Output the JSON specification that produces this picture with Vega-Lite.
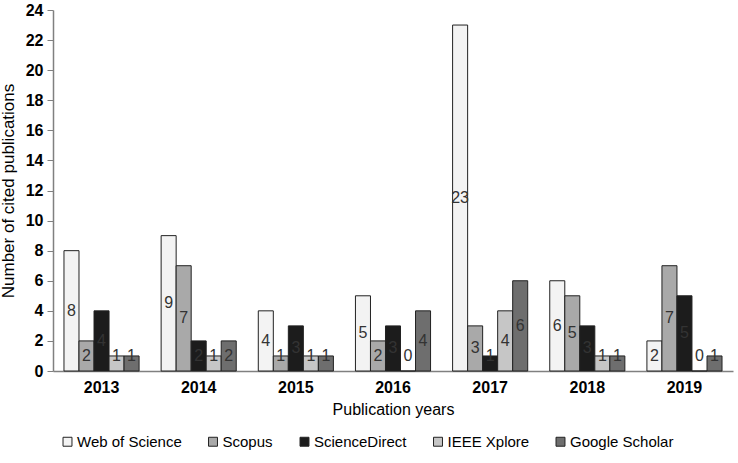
{
  "$schema": "https://vega.github.io/schema/vega-lite/v6.json",
  "width": 680,
  "height": 361,
  "autosize": {"type": "none"},
  "padding": {"left": 53, "top": 10, "right": 5, "bottom": 92},
  "background": "white",
  "config": {
    "font": "Liberation Sans",
    "view": {"stroke": null},
    "axis": {"grid": false, "labelColor": "#000", "titleColor": "#000", "labelFont": "Liberation Sans", "titleFont": "Liberation Sans"},
    "legend": {"labelFont": "Liberation Sans"}
  },
  "data": {
    "values": [
      {"year": "2013", "source": "Web of Science", "count": 8},
      {"year": "2013", "source": "Scopus", "count": 2},
      {"year": "2013", "source": "ScienceDirect", "count": 4},
      {"year": "2013", "source": "IEEE Xplore", "count": 1},
      {"year": "2013", "source": "Google Scholar", "count": 1},
      {"year": "2014", "source": "Web of Science", "count": 9},
      {"year": "2014", "source": "Scopus", "count": 7},
      {"year": "2014", "source": "ScienceDirect", "count": 2},
      {"year": "2014", "source": "IEEE Xplore", "count": 1},
      {"year": "2014", "source": "Google Scholar", "count": 2},
      {"year": "2015", "source": "Web of Science", "count": 4},
      {"year": "2015", "source": "Scopus", "count": 1},
      {"year": "2015", "source": "ScienceDirect", "count": 3},
      {"year": "2015", "source": "IEEE Xplore", "count": 1},
      {"year": "2015", "source": "Google Scholar", "count": 1},
      {"year": "2016", "source": "Web of Science", "count": 5},
      {"year": "2016", "source": "Scopus", "count": 2},
      {"year": "2016", "source": "ScienceDirect", "count": 3},
      {"year": "2016", "source": "IEEE Xplore", "count": 0},
      {"year": "2016", "source": "Google Scholar", "count": 4},
      {"year": "2017", "source": "Web of Science", "count": 23},
      {"year": "2017", "source": "Scopus", "count": 3},
      {"year": "2017", "source": "ScienceDirect", "count": 1},
      {"year": "2017", "source": "IEEE Xplore", "count": 4},
      {"year": "2017", "source": "Google Scholar", "count": 6},
      {"year": "2018", "source": "Web of Science", "count": 6},
      {"year": "2018", "source": "Scopus", "count": 5},
      {"year": "2018", "source": "ScienceDirect", "count": 3},
      {"year": "2018", "source": "IEEE Xplore", "count": 1},
      {"year": "2018", "source": "Google Scholar", "count": 1},
      {"year": "2019", "source": "Web of Science", "count": 2},
      {"year": "2019", "source": "Scopus", "count": 7},
      {"year": "2019", "source": "ScienceDirect", "count": 5},
      {"year": "2019", "source": "IEEE Xplore", "count": 0},
      {"year": "2019", "source": "Google Scholar", "count": 1}
    ]
  },
  "encoding": {
    "x": {
      "field": "year", "type": "nominal",
      "scale": {"paddingInner": 0.227, "paddingOuter": 0.113},
      "axis": {
        "title": "Publication years", "titleFontSize": 16, "titleFontWeight": "normal", "titlePadding": 6,
        "labelAngle": 0, "labelFontSize": 16, "labelFontWeight": "bold", "labelPadding": 8,
        "ticks": false, "domainColor": "#808080", "domainWidth": 1.5
      }
    },
    "xOffset": {
      "field": "source", "type": "nominal",
      "sort": ["Web of Science", "Scopus", "ScienceDirect", "IEEE Xplore", "Google Scholar"],
      "scale": {"paddingInner": 0, "paddingOuter": 0}
    },
    "y": {
      "field": "count", "type": "quantitative",
      "scale": {"domain": [0, 24], "nice": false},
      "axis": {
        "title": "Number of cited publications", "titleFontSize": 17, "titleFontWeight": "normal", "titlePadding": 8,
        "values": [0, 2, 4, 6, 8, 10, 12, 14, 16, 18, 20, 22, 24],
        "labelFontSize": 16, "labelFontWeight": "bold", "labelPadding": 4,
        "tickSize": 6, "tickColor": "#808080", "domainColor": "#808080", "domainWidth": 1.5
      }
    }
  },
  "layer": [
    {
      "mark": {"type": "bar", "stroke": "#222", "strokeWidth": 1},
      "encoding": {
        "color": {
          "field": "source", "type": "nominal",
          "sort": ["Web of Science", "Scopus", "ScienceDirect", "IEEE Xplore", "Google Scholar"],
          "scale": {
            "domain": ["Web of Science", "Scopus", "ScienceDirect", "IEEE Xplore", "Google Scholar"],
            "range": ["#f3f3f3", "#a9a9a9", "#1c1c1c", "#c6c6c6", "#6e6e6e"]
          },
          "legend": {
            "title": null, "orient": "none", "direction": "horizontal", "legendX": 7, "legendY": 424,
            "symbolType": "square", "symbolSize": 80, "symbolStrokeColor": "#222", "symbolStrokeWidth": 1,
            "labelFontSize": 15, "labelColor": "#000", "columnPadding": 23.5, "labelOffset": 2
          }
        }
      }
    },
    {
      "transform": [{"calculate": "max(datum.count / 2, 1)", "as": "mid"}],
      "mark": {"type": "text", "fontSize": 16, "fill": "#333", "baseline": "middle", "align": "center"},
      "encoding": {
        "y": {"field": "mid", "type": "quantitative"},
        "text": {"field": "count", "type": "quantitative"}
      }
    }
  ]
}
